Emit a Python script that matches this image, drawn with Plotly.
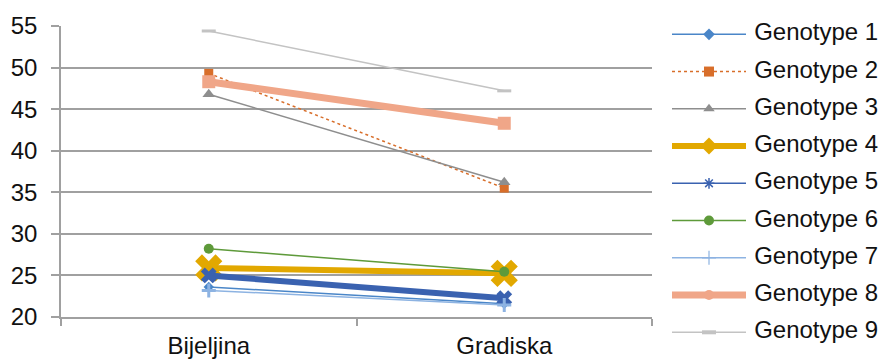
import plotly.graph_objects as go

# Locations (x categories)
locations = ["Bijeljina", "Gradiska"]

# Mean values per genotype at each location
genotype_names = [f"Genotype {i}" for i in range(1, 10)]
g1 = [23.6, 21.6]
g2 = [49.3, 35.5]
g3 = [46.8, 36.2]
g4 = [25.9, 25.25]
g5 = [25.0, 22.25]
g6 = [28.2, 25.45]
g7 = [23.2, 21.45]
g8 = [48.3, 43.3]
g9 = [54.4, 47.2]
series_values = [g1, g2, g3, g4, g5, g6, g7, g8, g9]

y_ticks = [20, 25, 30, 35, 40, 45, 50, 55]

# Per-series styling: colour, line width, dash, marker symbol/size (plot), legend line width, legend marker
styles = [
    dict(color="#4A86C8", width=1.5, dash="solid", symbol="diamond", size=8, lw=1.5, lsym="diamond", lsize=9, lmw=0),
    dict(color="#D86E2A", width=1.5, dash="dot", symbol="square", size=9, lw=1.5, lsym="square", lsize=10, lmw=0),
    dict(color="#8E8E8E", width=1.5, dash="solid", symbol="triangle-up", size=11, lw=1.5, lsym="triangle-up", lsize=10, lmw=0),
    dict(color="#E2A800", width=6, dash="solid", symbol="x", size=24, lw=6, lsym="diamond", lsize=13, lmw=0),
    dict(color="#3A62B0", width=6, dash="solid", symbol="x", size=14, lw=1.5, lsym="asterisk-open", lsize=9, lmw=1.5),
    dict(color="#5E9A3A", width=1.5, dash="solid", symbol="circle", size=10, lw=1.5, lsym="circle", lsize=10, lmw=0),
    dict(color="#8DB3E2", width=1.5, dash="solid", symbol="cross-thin-open", size=10, lw=1.5, lsym="cross-thin-open", lsize=10, lmw=1.2),
    dict(color="#F0A688", width=7, dash="solid", symbol="square", size=13, lw=7, lsym="circle", lsize=10, lmw=0),
    dict(color="#C3C3C3", width=1.5, dash="solid", symbol="line-ew-open", size=10, lw=1.5, lsym="line-ew-open", lsize=10, lmw=4),
]

FONT = "Liberation Sans, Arial, sans-serif"
W, H = 879, 359

fig = go.Figure()

# Main series
for name, vals, st in zip(genotype_names, series_values, styles):
    open_sym = st["symbol"].endswith("-open")
    fig.add_trace(go.Scatter(
        x=locations, y=vals, name=name, mode="lines+markers",
        line=dict(color=st["color"], width=st["width"], dash=st["dash"]),
        marker=dict(symbol=st["symbol"], size=st["size"], color=st["color"],
                    line=dict(color=st["color"], width=3 if open_sym else 0)),
        showlegend=False, cliponaxis=False, xaxis="x", yaxis="y",
    ))

# Custom legend drawn on its own helper axes (one row per genotype)
for i, (name, st) in enumerate(zip(genotype_names, styles)):
    fig.add_trace(go.Scatter(
        x=[0, 0.5, 1], y=[i, i, i], mode="lines",
        line=dict(color=st["color"], width=st["lw"], dash=st["dash"]),
        showlegend=False, hoverinfo="skip", xaxis="x2", yaxis="y2",
    ))
    fig.add_trace(go.Scatter(
        x=[0.5], y=[i], mode="markers",
        marker=dict(symbol=st["lsym"], size=st["lsize"], color=st["color"],
                    line=dict(color=st["color"], width=st["lmw"])),
        showlegend=False, hoverinfo="skip", xaxis="x2", yaxis="y2",
    ))
fig.add_trace(go.Scatter(
    x=[1.11] * len(genotype_names), y=list(range(len(genotype_names))),
    mode="text", text=genotype_names, textposition="middle right",
    textfont=dict(family=FONT, size=24, color="#111111"),
    showlegend=False, hoverinfo="skip", xaxis="x2", yaxis="y2", cliponaxis=False,
))

# Plot area in pixels
left, right, top, bottom = 61, 652, 26, 317
leg_left, leg_unit = 672, 74
row0, row_gap = 34.3, 37.25

fig.update_layout(
    width=W, height=H,
    margin=dict(l=0, r=0, t=0, b=0, autoexpand=False),
    paper_bgcolor="white", plot_bgcolor="white",
    font=dict(family=FONT, size=24, color="#111111"),
    showlegend=False,
    xaxis=dict(
        type="category", domain=[left / W, right / W], range=[-0.5, 1.5],
        tickson="boundaries", ticks="outside", ticklen=7, tickwidth=1.5, tickcolor="#A0A0A0",
        showline=True, linecolor="#A0A0A0", linewidth=1.5, showgrid=False, zeroline=False,
        tickfont=dict(size=24, color="#111111"), ticklabelstandoff=6, anchor="y", automargin=False,
    ),
    yaxis=dict(
        domain=[1 - bottom / H, 1 - top / H], range=[20, 55], tickvals=y_ticks,
        ticks="outside", ticklen=8, tickwidth=1.5, tickcolor="#A0A0A0",
        showline=True, linecolor="#A0A0A0", linewidth=1.5,
        showgrid=True, gridcolor="#A0A0A0", gridwidth=1.5, zeroline=False,
        tickfont=dict(size=24, color="#111111"), ticklabelstandoff=9, anchor="x",
        automargin=False,
    ),
    xaxis2=dict(
        domain=[leg_left / W, 1], range=[0, (W - leg_left) / leg_unit],
        visible=False, fixedrange=True, anchor="y2", automargin=False,
    ),
    yaxis2=dict(
        domain=[0, 1], range=[(H - row0) / row_gap, -row0 / row_gap],
        visible=False, fixedrange=True, anchor="x2", automargin=False,
    ),
)

fig.write_html("out.html")
